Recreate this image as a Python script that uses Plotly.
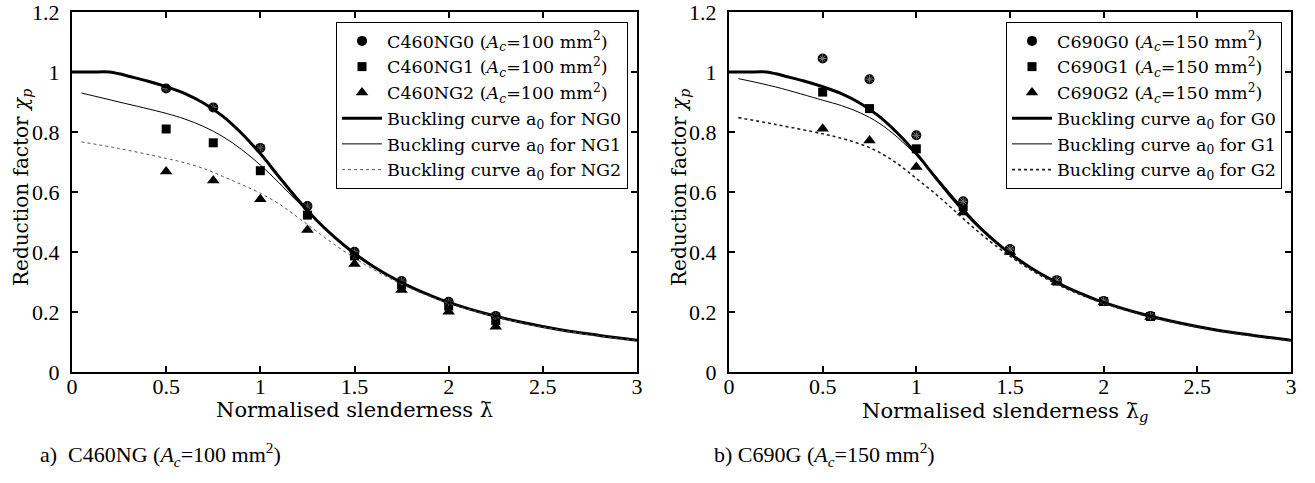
import plotly.graph_objects as go

W, H = 1315, 483

# ---- data ----
lam_pts = [0.5, 0.75, 1.0, 1.25, 1.5, 1.75, 2.0, 2.25]

ng0_pts = [0.945, 0.882, 0.747, 0.553, 0.401, 0.303, 0.234, 0.187]
ng1_pts = [0.810, 0.764, 0.671, 0.523, 0.387, 0.290, 0.220, 0.172]
ng2_pts = [0.668, 0.638, 0.576, 0.473, 0.360, 0.273, 0.201, 0.151]

g0_pts = [1.045, 0.976, 0.789, 0.569, 0.410, 0.306, 0.237, 0.187]
g1_pts = [0.933, 0.878, 0.744, 0.552, 0.405, 0.303, 0.235, 0.185]
g2_pts = [0.811, 0.772, 0.683, 0.532, 0.400, 0.300, 0.232, 0.183]

lam_a0 = [0.0, 0.1, 0.2, 0.25, 0.3, 0.4, 0.5, 0.6, 0.7, 0.8, 0.9, 1.0, 1.1, 1.2, 1.3,
          1.4, 1.5, 1.6, 1.7, 1.8, 1.9, 2.0, 2.2, 2.4, 2.6, 2.8, 3.0]
curve_a0 = [1.0, 1.0, 1.0, 0.994, 0.986, 0.970, 0.951, 0.928, 0.896, 0.853, 0.796, 0.728,
            0.650, 0.574, 0.505, 0.446, 0.395, 0.352, 0.315, 0.283, 0.256, 0.232,
            0.194, 0.164, 0.140, 0.122, 0.106]

lam_imp = [0.05, 0.25, 0.5, 0.6, 0.7, 0.8, 0.9, 1.0, 1.1, 1.2, 1.3, 1.4, 1.5,
           1.6, 1.7, 1.8, 1.9, 2.0, 2.2, 2.4, 2.6, 2.8, 3.0]
curve_ng1 = [0.930, 0.900, 0.862, 0.843, 0.818, 0.785, 0.742, 0.690, 0.630, 0.566,
             0.503, 0.445, 0.393, 0.350, 0.313, 0.282, 0.255, 0.231, 0.193, 0.163,
             0.140, 0.121, 0.106]
curve_ng2 = [0.767, 0.745, 0.712, 0.697, 0.678, 0.652, 0.625, 0.596, 0.560, 0.515,
             0.468, 0.422, 0.380, 0.342, 0.308, 0.278, 0.252, 0.229, 0.192, 0.162,
             0.139, 0.120, 0.105]
curve_g1 = [0.978, 0.950, 0.906, 0.888, 0.864, 0.830, 0.782, 0.722, 0.655, 0.582,
            0.512, 0.450, 0.396, 0.352, 0.314, 0.282, 0.255, 0.231, 0.193, 0.163,
            0.140, 0.121, 0.106]
curve_g2 = [0.848, 0.825, 0.794, 0.779, 0.760, 0.733, 0.694, 0.645, 0.595, 0.540,
            0.484, 0.432, 0.386, 0.345, 0.309, 0.278, 0.252, 0.229, 0.192, 0.162,
            0.139, 0.120, 0.105]

x_ticks = [0, 0.5, 1, 1.5, 2, 2.5, 3]
x_ticklabels = ["0", "0.5", "1", "1.5", "2", "2.5", "3"]
y_ticks = [0, 0.2, 0.4, 0.6, 0.8, 1.0, 1.2]
y_ticklabels = ["0", "0.2", "0.4", "0.6", "0.8", "1", "1.2"]

left_names = ["C460NG0 (<i>A<sub>c</sub></i>=100 mm<sup>2</sup>)",
              "C460NG1 (<i>A<sub>c</sub></i>=100 mm<sup>2</sup>)",
              "C460NG2 (<i>A<sub>c</sub></i>=100 mm<sup>2</sup>)",
              "Buckling curve a<sub>0</sub> for NG0",
              "Buckling curve a<sub>0</sub> for NG1",
              "Buckling curve a<sub>0</sub> for NG2"]
right_names = ["C690G0 (<i>A<sub>c</sub></i>=150 mm<sup>2</sup>)",
               "C690G1 (<i>A<sub>c</sub></i>=150 mm<sup>2</sup>)",
               "C690G2 (<i>A<sub>c</sub></i>=150 mm<sup>2</sup>)",
               "Buckling curve a<sub>0</sub> for G0",
               "Buckling curve a<sub>0</sub> for G1",
               "Buckling curve a<sub>0</sub> for G2"]

x_titles = ["Normalised slenderness λ̄", "Normalised slenderness λ̄<sub><i>g</i></sub>"]
y_title = "Reduction factor <i>χ<sub>p</sub></i>"
captions = ["a)  C460NG (<i>A<sub>c</sub></i>=100 mm<sup>2</sup>)",
            "b) C690G (<i>A<sub>c</sub></i>=150 mm<sup>2</sup>)"]

TIMES = "Liberation Serif, Times New Roman, serif"
CM = "DejaVu Serif, serif"


def px(x):
    return x / W


def py(y):
    return 1 - y / H


fig = go.Figure()


def add_panel(xa, ya, leg, names, pts, curves, dotcolor, dotwidth, astcolor):
    symbols = ["circle", "square", "triangle-up"]
    sizes = [10, 9, 11]
    for name, sym, sz, yv in zip(names[:3], symbols, sizes, pts):
        fig.add_trace(go.Scatter(
            x=lam_pts, y=yv, mode="markers", name=name,
            marker=dict(symbol=sym, size=sz, color="black", line=dict(width=0)),
            xaxis=xa, yaxis=ya, legend=leg))
    # faint asterisk overprint visible inside the circles
    fig.add_trace(go.Scatter(
        x=lam_pts, y=pts[0], mode="markers", showlegend=False, hoverinfo="skip",
        marker=dict(symbol="asterisk-open", size=7, color=astcolor,
                    line=dict(width=1, color=astcolor)),
        xaxis=xa, yaxis=ya))
    c0, c1, c2 = curves
    fig.add_trace(go.Scatter(x=lam_a0, y=c0, mode="lines", name=names[3],
                             line=dict(color="black", width=3, shape="spline"),
                             xaxis=xa, yaxis=ya, legend=leg))
    fig.add_trace(go.Scatter(x=lam_imp, y=c1, mode="lines", name=names[4],
                             line=dict(color="black", width=1, shape="spline"),
                             xaxis=xa, yaxis=ya, legend=leg))
    fig.add_trace(go.Scatter(x=lam_imp, y=c2, mode="lines", name=names[5],
                             line=dict(color=dotcolor, width=dotwidth, dash="dot", shape="spline"),
                             xaxis=xa, yaxis=ya, legend=leg))


add_panel("x", "y", "legend", left_names, [ng0_pts, ng1_pts, ng2_pts],
          [curve_a0, curve_ng1, curve_ng2], "#555555", 1, "#555555")
add_panel("x2", "y2", "legend2", right_names, [g0_pts, g1_pts, g2_pts],
          [curve_a0, curve_g1, curve_g2], "#222222", 1.6, "#777777")

ydom = [py(372), py(12)]
axis_common = dict(ticks="inside", ticklen=6, tickwidth=2, tickcolor="black",
                   showline=True, linecolor="black", linewidth=2, mirror="ticks",
                   showgrid=False, zeroline=False, automargin=False,
                   ticklabeloverflow="allow",
                   tickfont=dict(family=TIMES, size=22, color="black"))

legend_common = dict(yanchor="top", xanchor="right", bgcolor="white",
                     bordercolor="black", borderwidth=1,
                     font=dict(family=CM, size=17.5, color="black"),
                     tracegroupgap=0, itemwidth=40)


def ann(text, x, y, size, family, angle=0, xanchor="center"):
    return dict(text=text, x=px(x), y=py(y), xref="paper", yref="paper",
                xanchor=xanchor, yanchor="middle", showarrow=False, textangle=angle,
                font=dict(family=family, size=size, color="black"))


fig.update_layout(
    width=W, height=H, margin=dict(l=0, r=0, t=0, b=0),
    paper_bgcolor="white", plot_bgcolor="white",
    font=dict(family=TIMES, color="black"),
    xaxis=dict(domain=[px(72), px(637)], range=[0, 3], tickvals=x_ticks,
               ticktext=x_ticklabels, anchor="y", ticklabelstandoff=-6, **axis_common),
    yaxis=dict(domain=ydom, range=[0, 1.2], tickvals=y_ticks, ticktext=y_ticklabels,
               anchor="x", ticklabelstandoff=6, **axis_common),
    xaxis2=dict(domain=[px(729), px(1291)], range=[0, 3], tickvals=x_ticks,
                ticktext=x_ticklabels, anchor="y2", ticklabelstandoff=-6, **axis_common),
    yaxis2=dict(domain=ydom, range=[0, 1.2], tickvals=y_ticks, ticktext=y_ticklabels,
                anchor="x2", ticklabelstandoff=6, **axis_common),
    legend=dict(x=px(628), y=py(22), **legend_common),
    legend2=dict(x=px(1282), y=py(22), **legend_common),
    annotations=[
        ann(x_titles[0], 354, 410, 21, CM),
        ann(x_titles[1], 1005, 412, 21, CM),
        ann(y_title, 22, 188, 20, CM, angle=-90),
        ann(y_title, 680, 188, 20, CM, angle=-90),
        ann(captions[0], 38, 454, 22, TIMES, xanchor="left"),
        ann(captions[1], 712, 454, 22, TIMES, xanchor="left"),
    ],
)

fig.write_html("out.html", config={"displayModeBar": False},
               post_script="document.body.style.margin='0px';")
